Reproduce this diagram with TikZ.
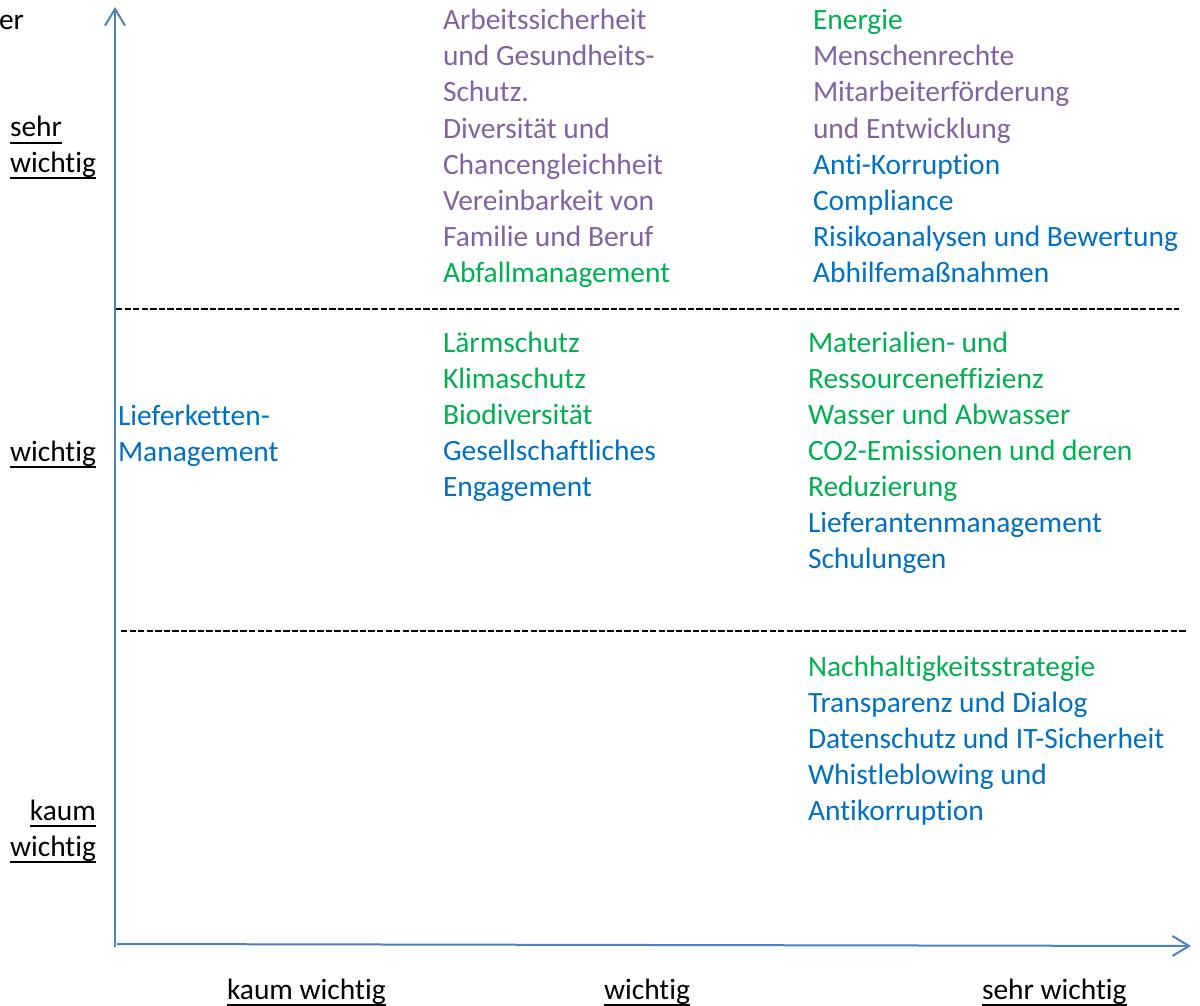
\documentclass[tikz,border=0pt]{standalone}
\usepackage{fontspec}
\setmainfont{Carlito}[Ligatures={NoCommon}]
\usetikzlibrary{arrows.meta}
\definecolor{cpurple}{HTML}{8064A2}
\definecolor{cgreen}{HTML}{00B050}
\definecolor{cblue}{HTML}{0070C0}
\definecolor{caxis}{HTML}{4F81BD}
\newcommand\myul[1]{{\setbox0\hbox{#1}\rlap{\rule[-5.2pt]{\wd0}{1.5pt}}\box0}}
\tikzset{
  item/.style={anchor=base west, inner sep=0pt, outer sep=0pt, font=\fontsize{22.1}{27}\selectfont},
  pu/.style={item, text=cpurple},
  gr/.style={item, text=cgreen},
  bl/.style={item, text=cblue},
  lbl/.style={item, text=black},
  axisline/.style={draw=caxis, line width=1.5pt, -{Straight Barb[length=12.5pt, width=15pt, line width=1.5pt]}},
  sepline/.style={draw=black, line width=1.6pt, dash pattern=on 4.8pt off 1.6pt}
}
\begin{document}
\begin{tikzpicture}[x=0.75pt, y=-0.75pt]
\useasboundingbox (0,0) rectangle (1200,1006);
% axes
\coordinate (origin) at (115,947);
\coordinate (ytop) at (115,7);
\coordinate (xorigin) at (117,944);
\coordinate (xright) at (1191,946);
\draw[axisline] (origin) -- (ytop);
\draw[axisline] (xorigin) -- (xright);
% separators
\coordinate (s1a) at (116,309);
\coordinate (s1b) at (1179,309);
\coordinate (s2a) at (121,631);
\coordinate (s2b) at (1187,631);
\draw[sepline] (s1a) -- (s1b);
\draw[sepline] (s2a) -- (s2b);
% left labels
\node[lbl] (er) at (-1,30) {er};
\node[lbl] (ysehr1) at (10,137) {\myul{sehr}};
\node[lbl] (ysehr2) at (10,172) {\myul{wichtig}};
\node[lbl] (ywichtig) at (10,461) {\myul{wichtig}};
\node[lbl, anchor=base east] (ykaum1) at (96,820) {\myul{kaum}};
\node[lbl, anchor=base east] (ykaum2) at (96,856) {\myul{wichtig}};
% bottom labels
\node[lbl] (xkaum) at (227,999) {\myul{kaum wichtig}};
\node[lbl] (xwichtig) at (604,999) {\myul{wichtig}};
\node[lbl] (xsehr) at (982,999) {\myul{sehr wichtig}};
% top middle
\node[pu] (a1) at (443,30) {Arbeitssicherheit};
\node[pu] (a2) at (443,66) {und Gesundheits-};
\node[pu] (a3) at (443,102) {Schutz.};
\node[pu] (a4) at (443,138) {Diversität und};
\node[pu] (a5) at (443,174) {Chancengleichheit};
\node[pu] (a6) at (443,210) {Vereinbarkeit von};
\node[pu] (a7) at (443,246) {Familie und Beruf};
\node[gr] (a8) at (443,282) {Abfallmanagement};
% top right
\node[gr] (b1) at (813,30) {Energie};
\node[pu] (b2) at (813,66) {Menschenrechte};
\node[pu] (b3) at (813,102) {Mitarbeiterförderung};
\node[pu] (b4) at (813,138) {und Entwicklung};
\node[bl] (b5) at (813,174) {Anti-Korruption};
\node[bl] (b6) at (813,210) {Compliance};
\node[bl] (b7) at (813,246) {Risikoanalysen und Bewertung};
\node[bl] (b8) at (813,282) {Abhilfemaßnahmen};
% middle left
\node[bl] (c1) at (118,425) {Lieferketten-};
\node[bl] (c2) at (118,461) {Management};
% middle middle
\node[gr] (d1) at (443,352) {Lärmschutz};
\node[gr] (d2) at (443,388) {Klimaschutz};
\node[gr] (d3) at (443,424) {Biodiversität};
\node[bl] (d4) at (443,460) {Gesellschaftliches};
\node[bl] (d5) at (443,496) {Engagement};
% middle right
\node[gr] (e1) at (808,352) {Materialien- und};
\node[gr] (e2) at (808,388) {Ressourceneffizienz};
\node[gr] (e3) at (808,424) {Wasser und Abwasser};
\node[gr] (e4) at (808,460) {CO2-Emissionen und deren};
\node[gr] (e5) at (808,496) {Reduzierung};
\node[bl] (e6) at (808,532) {Lieferantenmanagement};
\node[bl] (e7) at (808,568) {Schulungen};
% bottom right
\node[gr] (f1) at (808,676) {Nachhaltigkeitsstrategie};
\node[bl] (f2) at (808,712) {Transparenz und Dialog};
\node[bl] (f3) at (808,748) {Datenschutz und IT-Sicherheit};
\node[bl] (f4) at (808,784) {Whistleblowing und};
\node[bl] (f5) at (808,820) {Antikorruption};
\end{tikzpicture}
\end{document}
